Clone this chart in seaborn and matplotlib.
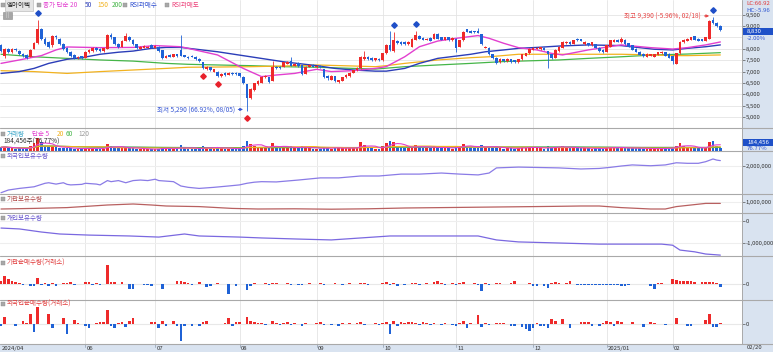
import numpy as np
import pandas as pd
import matplotlib
matplotlib.use("Agg")
import matplotlib.pyplot as plt
import seaborn as sns
from matplotlib.patches import Rectangle
from matplotlib.lines import Line2D
from matplotlib.transforms import offset_copy, blended_transform_factory

# ---------------- data ----------------
holidays = ["2024-05-01", "2024-05-06", "2024-05-15", "2024-06-06", "2024-08-15",
            "2024-09-16", "2024-09-17", "2024-09-18", "2024-10-01", "2024-10-03",
            "2024-10-09", "2024-12-25", "2024-12-31", "2025-01-01", "2025-01-27",
            "2025-01-28", "2025-01-29", "2025-01-30"]
dates = [d for d in pd.bdate_range("2024-04-26", "2025-02-20")
         if d.strftime("%Y-%m-%d") not in holidays]

open_ = [8150,7700,8000,7850,8000,7900,7780,7720,7650,8000,
         8250,8850,8450,8300,8150,8550,8450,8200,8050,7880,
         7720,7580,7680,7600,7850,7900,8050,8000,7900,8000,
         8620,8500,8200,8100,8350,8500,8400,8200,8000,8050,
         8050,8150,8050,8100,7950,7600,7720,7650,7750,7950,
         7720,7650,7700,7650,7550,7400,7100,7200,7000,7000,
         6800,6950,6850,6950,6950,6920,6780,6450,5850,6200,
         6450,6500,6750,6750,6600,7200,7200,7200,7350,7450,
         7250,7380,7290,6900,7200,7300,7200,7250,7100,6800,
         6650,6800,6550,6600,6750,6800,6950,7050,7150,7550,
         7650,7600,7500,7550,7500,7800,8150,7900,8350,8300,
         8300,8200,8100,8400,8580,8480,8400,8480,8450,8650,
         8500,8400,8500,8380,8450,8100,8380,8850,8800,8780,
         8760,8650,8050,8050,7750,7600,7400,7550,7450,7550,
         7500,7400,7550,7700,7800,7950,8000,7980,8050,7900,
         7750,7600,7900,8050,8250,8300,8220,8450,8420,8200,
         8250,8150,8200,8050,7950,7880,8100,8300,8400,8280,
         8400,8250,8150,8000,7880,7780,7650,7700,7650,7730,
         7800,7850,7780,7700,7350,7800,8280,8350,8400,8550,
         8450,8420,8350,8450,9250,9150,9010]
close = [7900,8000,7850,8000,7950,7750,7700,7600,7950,8250,
         8850,8450,8200,8100,8550,8500,8200,8000,7850,7700,
         7580,7650,7600,7880,7950,8050,7950,7900,8020,8600,
         8500,8200,8100,8350,8550,8400,8200,8050,8100,8120,
         8100,8050,8120,7900,7600,7700,7650,7750,7680,7700,
         7650,7600,7650,7550,7450,7150,7200,7050,7100,6800,
         6900,6850,6950,6900,6880,6800,6480,5850,6250,6480,
         6600,6780,6800,6550,7200,7150,7150,7400,7420,7250,
         7350,7250,6880,7200,7300,7200,7250,7200,6750,6700,
         6800,6600,6620,6750,6850,6950,7050,7150,7650,7650,
         7550,7500,7580,7500,7800,8170,7950,8400,8250,8200,
         8200,8300,8450,8600,8450,8400,8450,8350,8650,8450,
         8400,8500,8380,8480,8050,8380,8750,8750,8700,8720,
         8700,8200,8100,7750,7600,7380,7550,7450,7550,7400,
         7400,7550,7750,7800,8000,8050,8050,8060,7950,7750,
         7600,7950,8100,8300,8300,8200,8380,8370,8350,8300,
         8150,8280,8050,7900,7850,8150,8380,8400,8300,8420,
         8200,8100,7950,7880,7730,7680,7780,7750,7750,7850,
         7880,7700,7600,7450,7800,8300,8400,8450,8500,8400,
         8350,8350,8500,9200,9150,9010,8830]
high = [8200,8050,8050,8050,8050,7950,7820,7750,7980,8300,
        9260,8900,8500,8350,8600,8620,8480,8250,8080,7900,
        7750,7680,7700,7900,7980,8080,8080,8020,8050,8650,
        8700,8520,8250,8400,8680,8550,8420,8220,8120,8150,
        8130,8200,8150,8120,7960,7720,7750,7780,7770,8600,
        7740,7680,7720,7680,7580,7420,7250,7220,7130,7020,
        6950,6980,6980,6990,6970,6950,6800,6450,6280,6500,
        6650,6800,6850,6780,7450,7250,7230,7420,7450,7650,
        7380,7400,7300,7230,7330,7320,7280,7270,7120,6830,
        6830,6820,6650,6780,6880,6980,7080,7180,7700,7900,
        7680,7620,7600,7580,7820,8200,8800,8750,8380,8320,
        8330,8330,8480,8800,8600,8500,8480,8500,8680,8680,
        8520,8530,8520,8500,8470,8400,8780,8880,8830,8800,
        8900,8670,8130,8070,7770,7620,7580,7570,7580,7570,
        7520,7570,7780,7830,8020,8080,8080,8090,8070,7920,
        7770,7980,8130,8330,8350,8330,8400,8480,8440,8330,
        8270,8300,8220,8070,7970,8170,8400,8430,8420,8500,
        8420,8270,8170,8020,7900,7800,7800,7780,7770,7870,
        7900,7870,7800,7720,7820,8330,8430,8480,8530,8570,
        8470,8440,8520,9250,9390,9180,9030]
low = [7850,7600,7800,7800,7900,7720,7650,7560,7620,7980,
       8200,8400,8150,8050,8100,8450,8150,7950,7800,7650,
       7550,7550,7560,7580,7820,7880,7920,7880,7880,7980,
       8450,8150,8050,8080,8330,8350,8150,8000,7980,8020,
       8020,8020,8030,7880,7560,7580,7620,7630,7650,7680,
       7620,7570,7620,7530,7420,7100,7080,7020,6980,6750,
       6780,6820,6830,6870,6850,6780,6450,5290,5800,6150,
       6420,6480,6700,6520,6580,7100,7120,7180,7330,7230,
       7230,7220,6850,6880,7180,7180,7170,7170,6720,6650,
       6620,6560,6480,6580,6720,6780,6920,7020,7130,7530,
       7520,7470,7480,7470,7480,7780,7900,7880,8200,8150,
       8170,8180,8080,8380,8420,8370,8380,8320,8430,8430,
       8370,8380,8350,8360,7870,8080,8360,8720,8680,8690,
       8680,8170,8020,7720,7570,7350,7380,7420,7430,7380,
       7380,7380,7530,7680,7780,7930,7980,7960,7930,7140,
       7570,7580,7880,8030,8230,8170,8200,8350,8320,8180,
       8120,8130,8030,7880,7820,7860,8080,8280,8280,8260,
       8180,8080,7930,7860,7710,7650,7630,7680,7630,7710,
       7780,7680,7580,7350,7330,7780,8260,8330,8380,8380,
       8330,8330,8330,8430,9100,8970,8800]
volume = [220,260,180,170,150,160,140,150,320,480,
          780,520,300,220,330,240,200,180,170,160,
          150,130,120,200,160,170,140,130,150,420,
          300,220,160,200,240,180,160,150,120,110,
          110,120,100,150,260,150,120,140,110,380,
          160,130,120,140,160,300,180,170,150,260,
          170,140,150,120,130,160,280,620,420,300,
          240,260,180,200,480,260,200,240,180,300,
          160,170,280,220,180,150,130,140,250,180,
          150,200,170,160,170,190,180,200,520,380,
          220,180,150,140,300,460,620,560,300,220,
          200,180,260,380,260,200,170,190,280,240,
          180,160,170,150,330,280,420,280,220,180,
          220,360,240,260,200,240,180,150,160,170,
          150,170,240,200,260,200,170,160,150,280,
          200,260,230,280,200,180,210,190,170,160,
          160,150,170,170,140,220,260,200,170,200,
          190,170,180,160,170,150,140,130,140,160,
          150,160,170,230,320,480,300,240,220,200,
          170,160,200,560,620,300,184]

# moving averages (day index, price)
ma20_day = [0,5,11,15,18,27,36,42,49,59,66,71,75,80,86,90,96,102,105,110,114,119,124,130,133,137,141,146,150,153,160,169,177,183,187,192,196]
ma20_val = [7360,7510,7700,7950,8080,8050,8060,8140,8090,7730,7140,6780,6850,6920,7100,7000,7040,7140,7220,7650,8090,8340,8460,8580,8460,8240,8050,7950,7800,7730,7950,8170,8050,7990,8050,8170,8300]
ma50_day = [0,5,9,13,18,22,27,32,36,41,45,49,59,68,77,86,91,96,102,105,110,114,119,128,132,137,141,146,152,160,169,174,178,183,187,192,196]
ma50_val = [6920,7000,7140,7360,7540,7610,7760,7850,7900,8020,8060,8060,7870,7650,7430,7260,7140,7070,7020,7020,7140,7360,7580,7760,7870,7950,8020,8060,8120,8170,8140,8050,7980,7950,8020,8090,8170]
ma150_day = [0,9,18,27,36,45,51,59,68,77,86,96,102,105,110,119,128,133,141,152,160,169,178,183,187,196]
ma150_val = [7040,7000,6920,7000,7070,7140,7190,7200,7215,7245,7290,7245,7215,7260,7360,7510,7610,7650,7760,7760,7760,7760,7730,7700,7700,7730]
ma200_day = [0,5,9,18,27,36,45,51,59,68,77,86,96,102,105,110,119,128,137,152,160,169,178,187,196]
ma200_val = [7760,7700,7650,7580,7510,7460,7360,7320,7290,7260,7215,7190,7140,7110,7150,7215,7290,7360,7440,7510,7580,7650,7730,7770,7830]

rsi_overbought = [10, 107, 113, 194]
rsi_oversold = [55, 59, 67]

# holdings (shares), read at these day indices
frgn_day = [0,2,5,9,12,13,15,17,18,19,22,23,26,27,29,30,32,33,34,36,38,40,42,43,45,47,49,51,54,58,62,65,67,69,71,75,81,87,92,98,103,109,114,120,125,130,133,135,141,152,158,163,166,169,172,177,181,184,187,190,192,194,195,196]
frgn_hold = [1010000,1110000,1170000,1230000,1360000,1380000,1330000,1380000,1320000,1300000,
             1320000,1360000,1330000,1300000,1460000,1420000,1460000,1420000,1380000,1460000,
             1480000,1460000,1510000,1460000,1440000,1420000,1260000,1210000,1170000,1210000,
             1260000,1300000,1360000,1400000,1420000,1410000,1480000,1560000,1560000,1630000,
             1630000,1700000,1700000,1740000,1700000,1670000,1740000,1930000,1960000,1930000,
             1890000,1910000,1950000,2000000,2040000,2010000,2040000,2120000,2100000,2100000,
             2160000,2260000,2220000,2200000]
inst_day = [0,9,18,29,36,41,45,54,63,70,80,90,100,110,120,130,140,150,158,163,169,177,181,184,188,192,196]
inst_hold = [650000,680000,720000,850000,900000,850000,800000,770000,680000,650000,
             660000,640000,660000,700000,720000,740000,760000,780000,800000,800000,
             720000,650000,650000,770000,850000,930000,930000]
indiv_day = [0,5,11,16,24,35,43,50,54,65,71,81,90,98,106,114,122,130,135,141,152,163,172,180,183,185,189,192,196]
indiv_hold = [-320000,-360000,-500000,-590000,-640000,-680000,-730000,-590000,-680000,-730000,
              -770000,-820000,-860000,-770000,-680000,-680000,-680000,-680000,-860000,-950000,
              -1000000,-1050000,-1050000,-1050000,-1100000,-1320000,-1400000,-1500000,-1550000]

# net buying (thousand shares)
inst_net = [8,25,15,8,6,2,-2,1,-5,-7,
            18,-3,3,-7,2,-5,1,2,3,5,
            -3,1,-1,6,5,-3,3,-2,1,58,
            6,5,1,5,1,-15,-15,1,-1,-3,
            -3,-5,1,-1,-15,1,-1,1,8,8,
            6,3,-3,1,5,1,-10,-5,1,3,
            1,-1,-30,1,-7,1,-1,-17,-5,3,
            1,1,3,-2,4,2,-1,1,2,-3,
            1,-2,-4,1,2,-1,1,3,-2,1,
            -1,2,1,-2,1,3,1,-1,4,2,
            -2,1,-1,1,3,5,-4,3,-6,1,
            -2,1,2,4,-3,1,2,-1,6,9,
            2,-2,1,3,-4,2,5,1,-1,2,
            -3,-22,2,-3,1,2,2,1,1,4,
            8,1,1,1,3,-5,-5,1,-5,-12,
            2,5,3,1,3,8,1,-2,-2,-3,
            -2,-3,-2,-2,-3,-2,-3,-2,-3,-5,
            -7,-3,1,1,-1,1,-1,-5,-15,3,
            2,1,1,15,11,8,8,10,10,6,
            1,5,5,6,5,3,-9]
frgn_net = [-7,20,1,1,-7,1,10,3,30,-25,
            50,1,1,30,-13,1,1,17,-30,1,
            13,2,1,-5,-13,1,3,5,5,42,
            -7,-12,2,5,-10,10,17,1,1,1,
            1,5,7,-13,9,-5,1,10,-7,-50,
            -7,1,-5,1,-5,5,10,1,1,1,
            1,2,17,-7,5,5,1,20,10,7,
            3,3,-2,1,8,2,-3,4,5,-2,
            3,1,-6,2,1,-1,2,6,-4,1,
            -2,1,-7,2,1,3,-1,2,5,-3,
            1,-1,2,-2,4,6,-30,8,-5,6,
            2,7,5,3,-4,6,2,-3,4,1,
            -2,3,1,-2,-6,3,8,-12,2,1,
            28,-8,3,-2,1,2,2,2,1,-5,
            -7,1,-9,-15,-22,-12,2,-7,-5,-12,
            15,8,1,15,-1,-12,1,1,5,6,
            5,-5,1,-5,3,8,6,-5,10,5,
            1,1,5,1,-1,-9,1,5,3,1,
            1,-4,1,1,18,1,-1,-5,-7,1,
            1,1,13,31,-9,-9,3]

price_ticks = [5000, 5500, 6000, 6500, 7000, 7500, 8000, 9000, 9500]
price_grid = [5000, 5500, 6000, 6500, 7000, 7500, 8000, 8500, 9000, 9500]

# ---------------- style ----------------
sns.set_style("white")
plt.rcParams["font.family"] = ["Noto Sans CJK KR", "DejaVu Sans"]
plt.rcParams["axes.unicode_minus"] = False

RED = "#ee2a2a"
BLUE = "#1f62d6"
GRID = "#e4e4e4"
SIDE = "#d9e3f0"
FS = 4.7
FS_TICK = 4.3

W, H = 773, 352
fig = plt.figure(figsize=(W / 100, H / 100), dpi=100)
fig.patch.set_facecolor("white")

n = len(dates)
idx = np.arange(n)
o = np.array(open_); c = np.array(close); hi = np.array(high); lo = np.array(low)
cols = np.where(c >= o, RED, BLUE)

month_starts = [i for i in range(1, n) if dates[i].month != dates[i - 1].month and dates[i].month != 5]

XL = (-0.27, 201.9)


def add_panel(y0, y1):
    ax = fig.add_axes([0, 1 - y1 / H, 742 / W, (y1 - y0) / H])
    ax.set_xlim(*XL)
    for s in ax.spines.values():
        s.set_visible(False)
    ax.set_xticks([])
    ax.yaxis.tick_right()
    ax.tick_params(axis="y", right=True, left=False, length=2.0, width=0.5,
                   color="#555555", labelsize=FS_TICK, labelcolor="#333333", pad=0.8)
    for m in month_starts:
        ax.axvline(m, color=GRID, lw=0.6, zorder=0)
    return ax


def fmt(ax):
    ax.set_yticklabels([f"{int(v):,}" for v in ax.get_yticks()])
    ax.set_xlabel("")
    ax.set_ylabel("")


def ptext(x, y, s, color="#222222", size=FS, ha="left", **kw):
    fig.text(x / W, 1 - y / H, s, color=color, fontsize=size, ha=ha, va="center", **kw)


def icon(x, y):
    fig.patches.append(Rectangle((x / W, 1 - (y + 2) / H), 4 / W, 4 / H, transform=fig.transFigure,
                                 facecolor="#a8a8a8", edgecolor="#8c8c8c", lw=0.3, zorder=5))


# side backgrounds (below the axes so tick labels stay visible)
fig.patches.append(Rectangle((742 / W, 0), 31 / W, 1, transform=fig.transFigure,
                             facecolor=SIDE, edgecolor="none", zorder=-2))
fig.patches.append(Rectangle((0, 0), 1, 8 / H, transform=fig.transFigure,
                             facecolor=SIDE, edgecolor="none", zorder=-2))

# ---------------- price panel ----------------
axp = add_panel(0, 128)
axp.set_ylim(4526, 10140)
for g in price_grid:
    axp.axhline(g, color=GRID, lw=0.6, zorder=0)
sns.lineplot(x=ma200_day, y=ma200_val, ax=axp, color="#45b548", lw=0.9, zorder=2, legend=False)
sns.lineplot(x=ma150_day, y=ma150_val, ax=axp, color="#f2b21e", lw=0.9, zorder=2, legend=False)
sns.lineplot(x=ma50_day, y=ma50_val, ax=axp, color="#2b3db8", lw=1.0, zorder=2, legend=False)
sns.lineplot(x=ma20_day, y=ma20_val, ax=axp, color="#e23fcf", lw=1.0, zorder=2, legend=False)
axp.vlines(idx, lo, hi, colors=cols, linewidth=0.6, zorder=3)
axp.bar(idx, np.maximum(np.abs(c - o), 12), bottom=np.minimum(o, c), width=0.72,
        color=cols, linewidth=0, zorder=4)
up_tr = offset_copy(axp.transData, fig=fig, x=0, y=7, units="dots")
dn_tr = offset_copy(axp.transData, fig=fig, x=0, y=-7, units="dots")
for k in rsi_overbought:
    axp.plot([k], [high[k]], marker="D", ms=2.8, color="#1f4fc8", ls="none",
             transform=up_tr, clip_on=False, zorder=5)
for k in rsi_oversold:
    axp.plot([k], [low[k]], marker="D", ms=2.8, color="#e8202a", ls="none",
             transform=dn_tr, clip_on=False, zorder=5)
axp.set_yticks(price_ticks)
fmt(axp)

kmax = int(np.argmax(hi)); kmin = int(np.argmin(lo))
axp.text(kmax - 3.3, 9440, f"최고 {hi[kmax]:,} (-5.96%, {dates[kmax].strftime('%m/%d')})",
         color="#e64545", fontsize=FS, ha="right", va="center")
axp.annotate("", xy=(kmax - 0.3, 9440), xytext=(kmax - 3.1, 9440),
             arrowprops=dict(arrowstyle="-|>", color="#e64545", lw=0.7, mutation_scale=4))
axp.text(kmin - 3.3, 5340, f"최저 {lo[kmin]:,} (66.92%, {dates[kmin].strftime('%m/%d')})",
         color="#3656d4", fontsize=FS, ha="right", va="center")
axp.annotate("", xy=(kmin - 0.3, 5340), xytext=(kmin - 3.1, 5340),
             arrowprops=dict(arrowstyle="-|>", color="#3656d4", lw=0.7, mutation_scale=4))

# ---------------- volume panel ----------------
axv = add_panel(128, 151)
axv.set_ylim(0, 1380)
axv.bar(idx, volume, width=0.72, color=cols, linewidth=0, zorder=3)
vs = pd.Series(volume, dtype=float)
for win, col in [(120, "#a0a0a0"), (60, "#45b548"), (20, "#f2b21e"), (5, "#e23fcf")]:
    sns.lineplot(x=idx, y=vs.rolling(win, min_periods=1).mean().values, ax=axv,
                 color=col, lw=0.8, zorder=4, legend=False)
axv.set_yticks([])
axv.set_xlabel(""); axv.set_ylabel("")

# ---------------- holdings panels ----------------
axf = add_panel(151, 194)
axf.set_ylim(963000, 2556000)
axf.axhline(2000000, color="#eeeeee", lw=0.8, zorder=0)
sns.lineplot(x=frgn_day, y=frgn_hold, ax=axf, color="#8a7be6", lw=0.9, legend=False)
axf.set_yticks([2000000]); fmt(axf)

axi = add_panel(194, 213)
axi.set_ylim(450000, 1400000)
axi.axhline(1000000, color="#eeeeee", lw=0.8, zorder=0)
sns.lineplot(x=inst_day, y=inst_hold, ax=axi, color="#b86060", lw=0.9, legend=False)
axi.set_yticks([1000000]); fmt(axi)

axd = add_panel(213, 256)
axd.set_ylim(-1590000, 364000)
for g in (0, -1000000):
    axd.axhline(g, color="#eeeeee", lw=0.8, zorder=0)
sns.lineplot(x=indiv_day, y=indiv_hold, ax=axd, color="#7a68e0", lw=0.9, legend=False)
axd.set_yticks([0, -1000000]); fmt(axd)

# ---------------- net buying panels ----------------
axn1 = add_panel(256, 300)
axn1.set_ylim(-48, 84)
axn1.axhline(0, color="#e8e8e8", lw=0.8, zorder=0)
v1 = np.array(inst_net)
axn1.bar(idx, v1, width=0.72, color=np.where(v1 >= 0, RED, BLUE), linewidth=0, zorder=3)
axn1.set_yticks([0]); fmt(axn1)

axn2 = add_panel(300, 344)
axn2.set_ylim(-60, 72)
axn2.axhline(0, color="#e8e8e8", lw=0.8, zorder=0)
v2 = np.array(frgn_net)
axn2.bar(idx, v2, width=0.72, color=np.where(v2 >= 0, RED, BLUE), linewidth=0, zorder=3)
axn2.set_yticks([0]); fmt(axn2)

# x labels in the bottom strip
bt = blended_transform_factory(axn2.transData, axn2.transAxes)
axn2.text(0.1, -0.095, dates[0].strftime("%Y/%m"), transform=bt, fontsize=FS_TICK,
          color="#333333", ha="left", va="center")
for m in month_starts:
    d = dates[m]
    lab = d.strftime("%Y/%m") if d.month == 1 else d.strftime("%m")
    axn2.text(m + 0.4, -0.095, lab, transform=bt, fontsize=FS_TICK, color="#333333",
              ha="left", va="center")
    axn2.plot([m, m], [0, -0.06], transform=bt, color="#9aa8b8", lw=0.6, clip_on=False)
ptext(747, 348, dates[-1].strftime("%m/%d"), color="#333333", size=FS_TICK)

# separators
for yy in (128, 151, 194, 213, 256, 300, 344):
    fig.add_artist(Line2D([0, 1], [1 - yy / H, 1 - yy / H], transform=fig.transFigure,
                          color="#a9a9a9", lw=0.8))
fig.add_artist(Line2D([742 / W, 742 / W], [8 / H, 1], transform=fig.transFigure,
                      color="#a9a9a9", lw=0.7))

# ---------------- titles / labels ----------------
icon(0.5, 5)
ptext(7, 5, "엠아이텍", "#222222", bbox=dict(boxstyle="square,pad=0.25", fc="#e6e6e6", ec="#bdbdbd", lw=0.5))
fig.patches.append(Rectangle((3 / W, 1 - 19 / H), 9 / W, 7 / H, transform=fig.transFigure,
                             facecolor="#a6a6a6", edgecolor="#8a8a8a", lw=0.4, zorder=5))
ptext(7.5, 15.5, "|||", "white", size=3.4, ha="center", zorder=6)
icon(37, 5)
ptext(43, 5, "종가 단순 20", "#e23fcf")
ptext(85, 5, "50", "#2b3db8")
ptext(97, 5, "150", "#f2b21e")
ptext(112, 5, "200", "#45b548")
icon(123, 5)
ptext(129, 5, "RSI과매수", "#2f4fd0")
icon(165, 5)
ptext(171, 5, "RSI과매도", "#ec3f78")

icon(0.5, 134)
ptext(7, 134, "거래량", "#3aa6c8")
ptext(32, 134, "단순 5", "#e23fcf")
ptext(57, 134, "20", "#f2b21e")
ptext(66, 134, "60", "#45b548")
ptext(78, 134, "120", "#999999")
ptext(3, 141.5, "184,456주(76.77%)", "#333333")

for yy, s, col in [(156, "외국인보유수량", "#6452cc"), (199, "기관보유수량", "#b04848"),
                   (218, "개인보유수량", "#6452cc"), (263, "기관순매수량(거래소)", "#e03a3a"),
                   (304, "외국인순매수량(거래소)", "#e03a3a")]:
    icon(0.5, yy)
    ptext(7, yy, s, col)

# right side value boxes
ptext(746, 3.5, "LC:66.92", "#e23a3a", size=FS_TICK)
ptext(746, 10, "HC:-5.96", "#2f55d0", size=FS_TICK)
fig.patches.append(Rectangle((743 / W, 1 - 35 / H), 30 / W, 7 / H, transform=fig.transFigure,
                             facecolor="#1e50c8", edgecolor="none", zorder=5))
ptext(747, 31.5, f"{close[-1]:,}", "white", size=FS_TICK, zorder=6)
ptext(747, 38.5, "-2.00%", "#2f55d0", size=FS_TICK)
fig.patches.append(Rectangle((743 / W, 1 - 146 / H), 30 / W, 7 / H, transform=fig.transFigure,
                             facecolor="#1e50c8", edgecolor="none", zorder=5))
ptext(747, 142.5, f"{volume[-1] * 1000 + 456:,}", "white", size=FS_TICK, zorder=6)
ptext(747, 149, "76.77%", "#2f55d0", size=FS_TICK)

fig.savefig("out.png", dpi=100, facecolor="white")
